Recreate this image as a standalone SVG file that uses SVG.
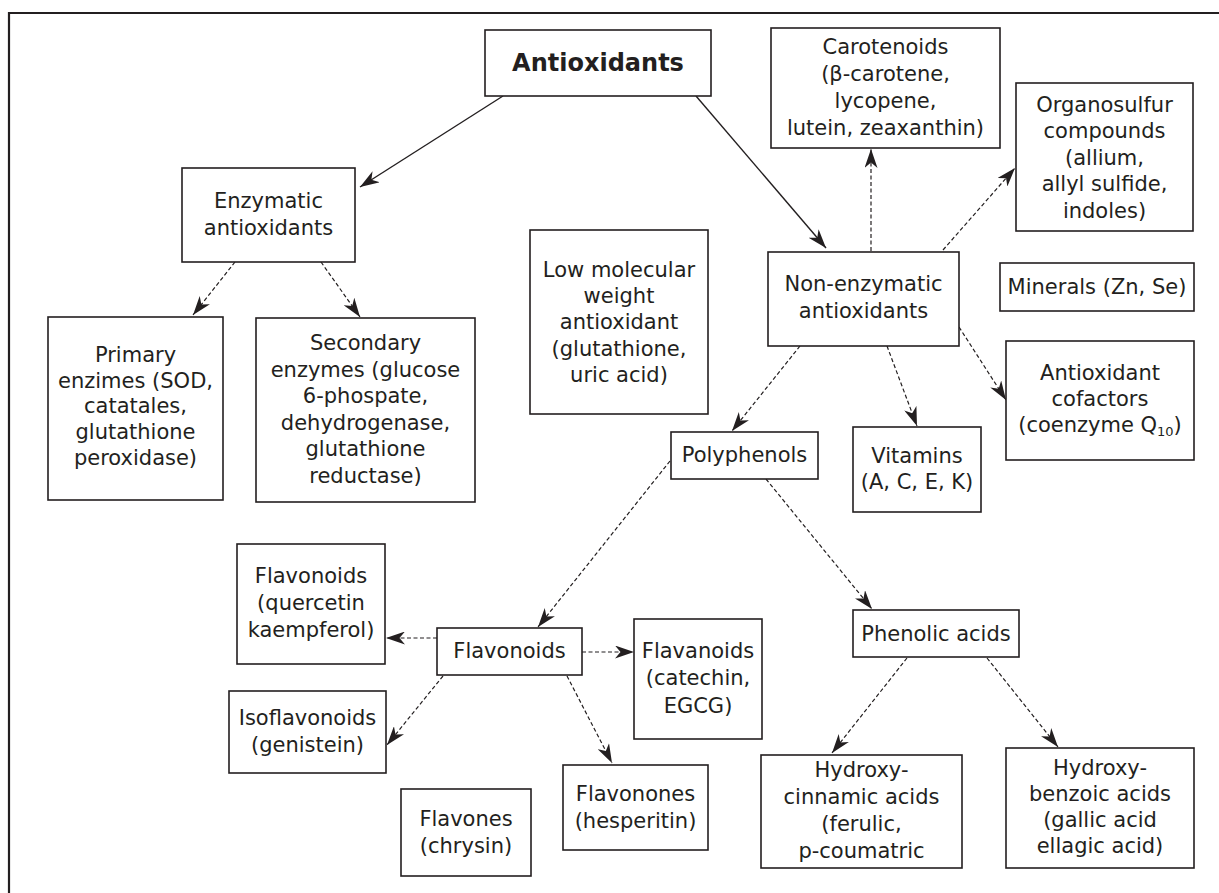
<svg xmlns="http://www.w3.org/2000/svg" width="1219" height="893" viewBox="0 0 1219 893">
<style>
.box{fill:#fff;stroke:#231f20;stroke-width:1.6}
text{font-family:"DejaVu Sans","Liberation Sans",sans-serif;font-size:21px;fill:#231f20;text-anchor:middle}
.title{font-weight:bold;font-size:24px}
.solid{fill:none;stroke:#231f20;stroke-width:1.4;marker-end:url(#ah)}
.dash{fill:none;stroke:#231f20;stroke-width:1.2;stroke-dasharray:4 2.5;marker-end:url(#ah)}
.frame{fill:none;stroke:#231f20;stroke-width:2.2}
</style>
<defs>
<marker id="ah" viewBox="0 0 19 13" markerWidth="19" markerHeight="13" refX="19" refY="6.5" orient="auto" markerUnits="userSpaceOnUse">
<path d="M0,0 L19,6.5 L0,13 L5.5,6.5 Z" fill="#231f20" stroke="none"/>
</marker>
</defs>
<rect width="1219" height="893" fill="#fff"/>
<path class="frame" d="M9,893 V13 H1219"/>
<g id="connectors">
<line class="solid" x1="503" y1="96" x2="360" y2="187"/>
<line class="solid" x1="696" y1="96" x2="826" y2="248"/>
<line class="dash" x1="235" y1="262" x2="193" y2="315"/>
<line class="dash" x1="321" y1="262" x2="360" y2="317"/>
<line class="dash" x1="871" y1="251" x2="871" y2="149"/>
<line class="dash" x1="943" y1="250" x2="1015" y2="168"/>
<line class="dash" x1="959" y1="327" x2="1006" y2="400"/>
<line class="dash" x1="887" y1="346" x2="917" y2="426"/>
<line class="dash" x1="800" y1="346" x2="732" y2="431"/>
<line class="dash" x1="670" y1="461" x2="538" y2="627"/>
<line class="dash" x1="766" y1="479" x2="872" y2="609"/>
<line class="dash" x1="437" y1="638" x2="386" y2="638"/>
<line class="dash" x1="582" y1="652" x2="634" y2="652"/>
<line class="dash" x1="443" y1="676" x2="387" y2="745"/>
<line class="dash" x1="567" y1="676" x2="612" y2="763"/>
<line class="dash" x1="907" y1="658" x2="832" y2="753"/>
<line class="dash" x1="987" y1="658" x2="1058" y2="747"/>
</g>
<g id="antioxidants">
<rect class="box" x="485" y="30" width="226" height="66"/>
<text class="title" x="598" y="71">Antioxidants</text>
</g>
<g id="enzymatic">
<rect class="box" x="182" y="168" width="173" height="94"/>
<text x="268.5" y="208">Enzymatic</text>
<text x="268.5" y="235">antioxidants</text>
</g>
<g id="primary">
<rect class="box" x="48" y="317" width="175" height="183"/>
<text x="135.5" y="362">Primary</text>
<text x="135.5" y="388">enzimes (SOD,</text>
<text x="135.5" y="413">catatales,</text>
<text x="135.5" y="439">glutathione</text>
<text x="135.5" y="465">peroxidase)</text>
</g>
<g id="secondary">
<rect class="box" x="256" y="318" width="219" height="184"/>
<text x="365.5" y="350">Secondary</text>
<text x="365.5" y="377">enzymes (glucose</text>
<text x="365.5" y="403">6-phospate,</text>
<text x="365.5" y="430">dehydrogenase,</text>
<text x="365.5" y="456">glutathione</text>
<text x="365.5" y="483">reductase)</text>
</g>
<g id="lowmw">
<rect class="box" x="530" y="230" width="178" height="184"/>
<text x="619" y="277">Low molecular</text>
<text x="619" y="303">weight</text>
<text x="619" y="329">antioxidant</text>
<text x="619" y="356">(glutathione,</text>
<text x="619" y="382">uric acid)</text>
</g>
<g id="nonenzymatic">
<rect class="box" x="768" y="252" width="191" height="94"/>
<text x="863.5" y="291">Non-enzymatic</text>
<text x="863.5" y="318">antioxidants</text>
</g>
<g id="carotenoids">
<rect class="box" x="771" y="28" width="229" height="120"/>
<text x="885.5" y="54">Carotenoids</text>
<text x="885.5" y="81">(β-carotene,</text>
<text x="885.5" y="108">lycopene,</text>
<text x="885.5" y="135">lutein, zeaxanthin)</text>
</g>
<g id="organosulfur">
<rect class="box" x="1016" y="83" width="177" height="148"/>
<text x="1104.5" y="112">Organosulfur</text>
<text x="1104.5" y="138">compounds</text>
<text x="1104.5" y="165">(allium,</text>
<text x="1104.5" y="191">allyl sulfide,</text>
<text x="1104.5" y="218">indoles)</text>
</g>
<g id="minerals">
<rect class="box" x="1000" y="263" width="194" height="48"/>
<text x="1097" y="294">Minerals (Zn, Se)</text>
</g>
<g id="cofactors">
<rect class="box" x="1006" y="341" width="188" height="119"/>
<text x="1100" y="380">Antioxidant</text>
<text x="1100" y="406">cofactors</text>
<text x="1100" y="432">(coenzyme Q<tspan font-size="13" dy="4">10</tspan><tspan dy="-4">)</tspan></text>
</g>
<g id="vitamins">
<rect class="box" x="853" y="427" width="128" height="85"/>
<text x="917" y="463">Vitamins</text>
<text x="917" y="489">(A, C, E, K)</text>
</g>
<g id="polyphenols">
<rect class="box" x="671" y="432" width="147" height="47"/>
<text x="744.5" y="462">Polyphenols</text>
</g>
<g id="flavonoids-quercetin">
<rect class="box" x="237" y="544" width="148" height="120"/>
<text x="311" y="583">Flavonoids</text>
<text x="311" y="610">(quercetin</text>
<text x="311" y="637">kaempferol)</text>
</g>
<g id="flavonoids">
<rect class="box" x="437" y="628" width="145" height="47"/>
<text x="509.5" y="658">Flavonoids</text>
</g>
<g id="flavanoids">
<rect class="box" x="634" y="619" width="128" height="120"/>
<text x="698" y="658">Flavanoids</text>
<text x="698" y="685">(catechin,</text>
<text x="698" y="713">EGCG)</text>
</g>
<g id="isoflavonoids">
<rect class="box" x="229" y="691" width="157" height="82"/>
<text x="307.5" y="725">Isoflavonoids</text>
<text x="307.5" y="752">(genistein)</text>
</g>
<g id="flavones">
<rect class="box" x="401" y="789" width="130" height="87"/>
<text x="466" y="826">Flavones</text>
<text x="466" y="853">(chrysin)</text>
</g>
<g id="flavonones">
<rect class="box" x="563" y="765" width="145" height="85"/>
<text x="635.5" y="801">Flavonones</text>
<text x="635.5" y="828">(hesperitin)</text>
</g>
<g id="phenolic">
<rect class="box" x="853" y="610" width="166" height="47"/>
<text x="936" y="641">Phenolic acids</text>
</g>
<g id="hydroxycinnamic">
<rect class="box" x="761" y="755" width="201" height="113"/>
<text x="861.5" y="777">Hydroxy-</text>
<text x="861.5" y="804">cinnamic acids</text>
<text x="861.5" y="831">(ferulic,</text>
<text x="861.5" y="858">p-coumatric</text>
</g>
<g id="hydroxybenzoic">
<rect class="box" x="1006" y="748" width="188" height="120"/>
<text x="1100" y="775">Hydroxy-</text>
<text x="1100" y="801">benzoic acids</text>
<text x="1100" y="827">(gallic acid</text>
<text x="1100" y="853">ellagic acid)</text>
</g>
</svg>
